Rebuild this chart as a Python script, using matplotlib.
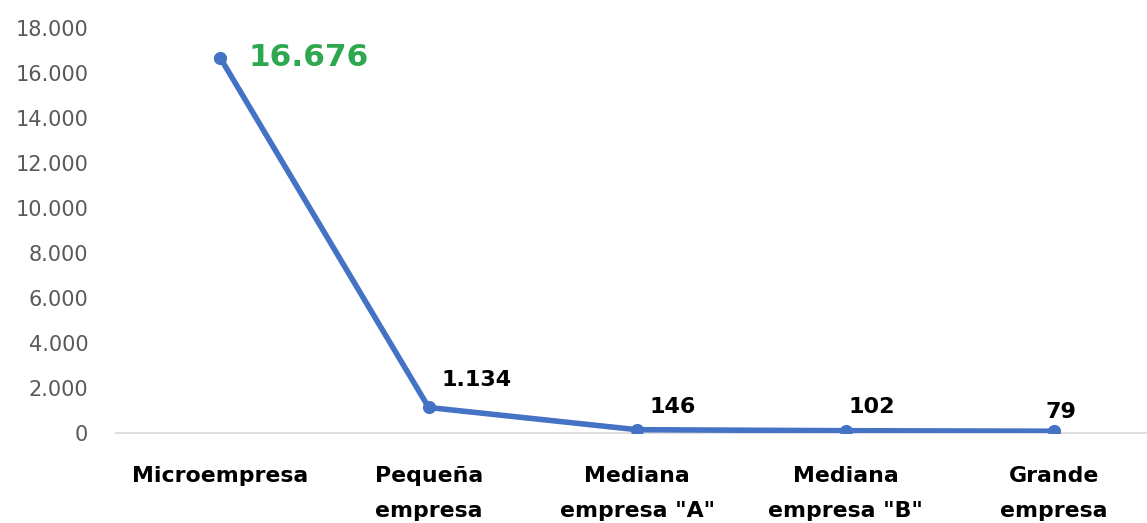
import matplotlib.pyplot as plt
from matplotlib.ticker import FuncFormatter

categorias = ['Microempresa', 'Pequeña\nempresa', 'Mediana\nempresa "A"', 'Mediana\nempresa "B"', 'Grande\nempresa']
valores = [16676, 1134, 146, 102, 79]
etiquetas = ['16.676', '1.134', '146', '102', '79']
# desplazamientos de las etiquetas (puntos)
offsets = [(20, 0), (9, 20), (9, 16), (2, 17), (-6, 14)]

plt.rcParams['font.family'] = ['DejaVu Sans']

fig = plt.figure(figsize=(11.47, 5.23), dpi=100)
ax = fig.add_axes([116 / 1147, 90 / 523, 1 - 116 / 1147, 405 / 523])

x = list(range(len(valores)))
ax.plot(x, valores, color='#4472C4', linewidth=4, marker='o', markersize=8.5,
        solid_capstyle='round', solid_joinstyle='round', zorder=3)

for i, (v, t, off) in enumerate(zip(valores, etiquetas, offsets)):
    if i == 0:
        ax.annotate(t, (i, v), xytext=off, textcoords='offset points',
                    ha='left', va='center', fontsize=22.5, fontweight='bold', color='#2EA84E')
    else:
        ax.annotate(t, (i, v), xytext=off, textcoords='offset points',
                    ha='left', va='center', fontsize=16, fontweight='bold', color='black')

ax.set_ylim(0, 18000)
ax.set_yticks(range(0, 18001, 2000))
ax.yaxis.set_major_formatter(FuncFormatter(lambda v, p: f'{int(v):,}'.replace(',', '.')))
ax.set_xlim(-0.5, 4 + 93 / 208.5)
ax.set_xticks(x)
ax.set_xticklabels(categorias, fontsize=15.8, fontweight='bold', linespacing=1.9)

for s in ['top', 'right', 'left']:
    ax.spines[s].set_visible(False)
ax.spines['bottom'].set_color('#D9D9D9')
ax.spines['bottom'].set_linewidth(1.2)
ax.tick_params(axis='y', length=0, labelsize=15, labelcolor='#595959', pad=20)
ax.tick_params(axis='x', length=0, pad=24)

fig.savefig('out.png', dpi=100)
